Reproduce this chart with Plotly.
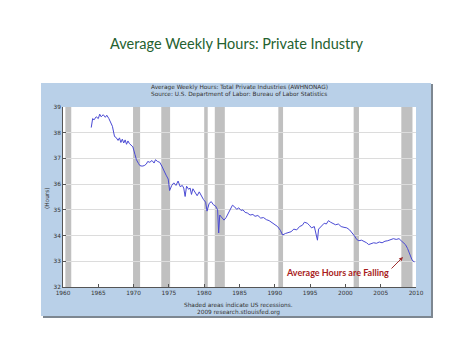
import plotly.graph_objects as go

# ---- data ----
years = [1964.0, 1964.2, 1964.4, 1964.7, 1965.0, 1965.2, 1965.4, 1965.7, 1966.0, 1966.2, 1966.5,
         1966.8, 1967.0, 1967.3, 1967.5, 1967.8, 1968.0, 1968.2, 1968.4, 1968.6, 1968.8, 1969.0,
         1969.2, 1969.4, 1969.6, 1969.9, 1970.2, 1970.4, 1970.7, 1970.9, 1971.2, 1971.5, 1971.8,
         1972.0, 1972.3, 1972.6, 1972.9, 1973.1, 1973.4, 1973.7, 1974.0, 1974.3, 1974.6, 1974.9,
         1975.1, 1975.4, 1975.7, 1976.0, 1976.3, 1976.6, 1976.9, 1977.1, 1977.3, 1977.5, 1977.8,
         1978.0, 1978.2, 1978.4, 1978.7, 1979.0, 1979.3, 1979.6, 1979.9, 1980.2, 1980.4, 1980.7,
         1981.0, 1981.3, 1981.6, 1981.9, 1982.05, 1982.2, 1982.5, 1982.8, 1983.1, 1983.4, 1983.7,
         1984.0, 1984.3, 1984.6, 1984.9, 1985.2, 1985.5, 1985.8, 1986.1, 1986.5, 1986.9, 1987.2,
         1987.6, 1988.0, 1988.4, 1988.8, 1989.2, 1989.6, 1990.0, 1990.4, 1990.8, 1991.1, 1991.5,
         1991.9, 1992.3, 1992.7, 1993.1, 1993.5, 1993.9, 1994.2, 1994.6, 1994.9, 1995.2, 1995.6,
         1996.04, 1996.2, 1996.6, 1997.0, 1997.3, 1997.6, 1997.9, 1998.2, 1998.6, 1999.0, 1999.4,
         1999.8, 2000.2, 2000.6, 2001.0, 2001.3, 2001.6, 2001.9, 2002.3, 2002.7, 2003.0, 2003.3,
         2003.7, 2004.0, 2004.4, 2004.8, 2005.2, 2005.6, 2006.0, 2006.4, 2006.8, 2007.2, 2007.6,
         2007.9, 2008.2, 2008.5, 2008.8, 2009.0, 2009.2, 2009.4, 2009.6, 2009.8]
hours = [38.20, 38.55, 38.50, 38.62, 38.55, 38.72, 38.62, 38.70, 38.60, 38.68, 38.55,
         38.35, 38.25, 37.85, 37.82, 37.70, 37.80, 37.62, 37.75, 37.60, 37.72, 37.55,
         37.68, 37.58, 37.52, 37.45, 37.15, 36.95, 36.80, 36.72, 36.70, 36.72, 36.78,
         36.88, 36.85, 36.92, 36.82, 36.95, 36.88, 36.85, 36.70, 36.50, 36.35, 36.20,
         35.75, 35.95, 36.05, 35.95, 36.12, 35.90, 35.95, 35.85, 35.52, 35.92, 35.80,
         35.85, 35.60, 35.82, 35.70, 35.55, 35.70, 35.52, 35.40, 35.30, 34.95, 35.25,
         35.32, 35.20, 35.15, 35.00, 34.10, 34.80, 34.72, 34.60, 34.70, 34.88, 35.05,
         35.18, 35.12, 35.02, 35.08, 34.98, 35.00, 34.90, 34.88, 34.80, 34.82, 34.75,
         34.78, 34.68, 34.70, 34.62, 34.58, 34.50, 34.42, 34.35, 34.20, 34.02, 34.08,
         34.12, 34.15, 34.25, 34.22, 34.35, 34.40, 34.52, 34.48, 34.40, 34.30, 34.35,
         33.82, 34.25, 34.38, 34.48, 34.45, 34.58, 34.52, 34.48, 34.42, 34.45, 34.35,
         34.32, 34.30, 34.22, 34.10, 33.98, 33.85, 33.80, 33.82, 33.78, 33.72, 33.65,
         33.68, 33.72, 33.70, 33.75, 33.72, 33.78, 33.80, 33.85, 33.88, 33.85, 33.88,
         33.80, 33.72, 33.65, 33.50, 33.35, 33.20, 33.08, 33.00, 32.98]

rec_start = [1960.33, 1969.92, 1973.92, 1980.00, 1981.50, 1990.50, 2001.17, 2007.92]
rec_end = [1961.17, 1970.92, 1975.17, 1980.50, 1982.92, 1991.17, 2001.92, 2009.50]

x_ticks = [1960, 1965, 1970, 1975, 1980, 1985, 1990, 1995, 2000, 2005, 2010]
y_ticks = [32, 33, 34, 35, 36, 37, 38, 39]

# ---- figure ----
OFF = 8  # default page body margin
W, H = 474 - OFF, 355 - OFF
L, R, T, B = 63 - OFF, 416 - OFF, 107 - OFF, 287 - OFF  # plot area in figure pixels


def px_x(p):
    return (p - OFF - L) / (R - L)


def px_y(p):
    return (B - (p - OFF)) / (B - T)


fig = go.Figure()
fig.add_trace(go.Scatter(x=years, y=hours, mode="lines",
                         line=dict(color="#4a4ad4", width=1), hoverinfo="skip"))

shapes = [
    # shadow of panel
    dict(type="rect", xref="paper", yref="paper", layer="below",
         x0=px_x(43), x1=px_x(433), y0=px_y(318), y1=px_y(84),
         fillcolor="#7d8791", line=dict(width=0)),
    # panel
    dict(type="rect", xref="paper", yref="paper", layer="below",
         x0=px_x(41), x1=px_x(431), y0=px_y(316), y1=px_y(83),
         fillcolor="#b9d0e8", line=dict(width=0)),
    # plot area
    dict(type="rect", xref="paper", yref="paper", layer="below",
         x0=0, x1=1, y0=0, y1=1, fillcolor="white", line=dict(width=0)),
]
for s, e in zip(rec_start, rec_end):
    shapes.append(dict(type="rect", xref="x", yref="paper", layer="below",
                       x0=s, x1=e, y0=0, y1=1, fillcolor="#c0c0c0",
                       line=dict(width=0)))

small = dict(family="DejaVu Sans", size=5.8, color="#333333")
annotations = [
    dict(text="Average Weekly Hours: Total Private Industries (AWHNONAG)",
         xref="paper", yref="paper", x=px_x(239), y=px_y(87), showarrow=False,
         font=small, xanchor="center", yanchor="middle"),
    dict(text="Source: U.S. Department of Labor: Bureau of Labor Statistics",
         xref="paper", yref="paper", x=px_x(239), y=px_y(94), showarrow=False,
         font=small, xanchor="center", yanchor="middle"),
    dict(text="Shaded areas indicate US recessions.",
         xref="paper", yref="paper", x=px_x(238), y=px_y(305), showarrow=False,
         font=small, xanchor="center", yanchor="middle"),
    dict(text="2009 research.stlouisfed.org",
         xref="paper", yref="paper", x=px_x(238), y=px_y(312), showarrow=False,
         font=small, xanchor="center", yanchor="middle"),
    dict(text="(Hours)", xref="paper", yref="paper", x=px_x(47), y=px_y(198),
         showarrow=False, textangle=-90, font=small,
         xanchor="center", yanchor="middle"),
    dict(text="<b>Average Hours are Falling</b>", xref="paper", yref="paper",
         x=px_x(337), y=px_y(272), showarrow=False,
         font=dict(family="Lato", size=9, color="#a81c1c"),
         xanchor="center", yanchor="middle"),
    dict(text="", xref="paper", yref="paper", x=px_x(403), y=px_y(257),
         ax=-13, ay=13, showarrow=True, arrowhead=2, arrowsize=0.8,
         arrowwidth=1, arrowcolor="#a03030"),
    dict(text="Average Weekly Hours: Private Industry", xref="paper", yref="paper",
         x=px_x(237), y=px_y(44), showarrow=False,
         font=dict(family="Lato", size=14.5, color="#24612f"),
         xanchor="center", yanchor="middle"),
]

fig.update_layout(
    width=W, height=H,
    margin=dict(l=L, r=W - R, t=T, b=H - B, pad=0),
    paper_bgcolor="white", plot_bgcolor="rgba(0,0,0,0)",
    showlegend=False,
    shapes=shapes, annotations=annotations,
    xaxis=dict(range=[1960, 2010], tickvals=x_ticks,
               ticktext=[str(v) for v in x_ticks],
               showgrid=False, zeroline=False, showline=True,
               linecolor="#555555", linewidth=1, ticks="inside", ticklen=3,
               tickcolor="#555555", tickfont=small),
    yaxis=dict(range=[32, 39], tickvals=y_ticks,
               ticktext=[str(v) for v in y_ticks],
               showgrid=True, gridcolor="#dcdcdc", gridwidth=1,
               zeroline=False, showline=True, linecolor="#555555", linewidth=1,
               ticks="inside", ticklen=3, tickcolor="#555555", tickfont=small),
)

fig.write_html("out.html")
